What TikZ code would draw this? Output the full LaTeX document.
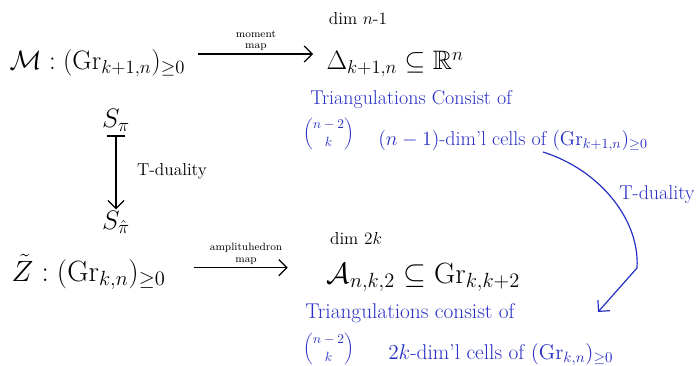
\RequirePackage{fix-cm}
\documentclass[tikz,border=0pt]{standalone}
\usepackage{amsmath,amssymb}
\usetikzlibrary{arrows.meta}
\definecolor{inkblue}{RGB}{38,46,196}
\begin{document}
\begin{tikzpicture}[x=0.75pt,y=-0.75pt,
    big/.style={font=\fontsize{20}{24}\selectfont,inner sep=1pt},
    tiny/.style={font=\fontsize{8}{8.5}\selectfont,align=center,inner sep=2pt},
    dimtext/.style={font=\fontsize{13}{15}\selectfont},
    note/.style={font=\fontsize{15}{17}\selectfont,text=inkblue,anchor=base west,inner sep=0pt},
    binom/.style={font=\fontsize{10}{11}\selectfont,text=inkblue,anchor=west,inner sep=0pt},
    mapto/.style={line width=0.9pt,-{Straight Barb[length=6pt,width=12pt]}}]
\useasboundingbox (0,0) rectangle (698,366);
% top row
\node[big,anchor=base west] (mom) at (8,70) {$\mathcal{M}:(\mathrm{Gr}_{k+1,n})_{\geq 0}$};
\node[big,anchor=base west] (simp) at (325,70) {$\Delta_{k+1,n}\subseteq\mathbb{R}^n$};
\node[dimtext] (dimA) at (358,19) {dim $n$-1};
\draw[mapto,shorten <=8pt,shorten >=9pt]
    ([yshift=12pt]mom.base east) -- ([yshift=12pt]simp.base west)
    node[midway,above,tiny] {moment\\map};
% T-duality on the left
\node[big] (spi) at (116,120) {$S_\pi$};
\node[big] (shpi) at (116,222) {$S_{\hat\pi}$};
\draw[line width=0.9pt,{Bar[width=14pt]}-{Straight Barb[length=6pt,width=12pt]},shorten <=2pt]
    (spi) -- (shpi)
    node[midway,right=12pt,dimtext] {T-duality};
% bottom row
\node[big,font=\fontsize{22}{26}\selectfont,anchor=base west] (ztil) at (10,281) {$\tilde{Z}:(\mathrm{Gr}_{k,n})_{\geq 0}$};
\node[big,font=\fontsize{22}{26}\selectfont,anchor=base west] (amp) at (325,283) {$\mathcal{A}_{n,k,2}\subseteq\mathrm{Gr}_{k,k+2}$};
\node[dimtext] (dimB) at (356,239) {dim $2k$};
\draw[mapto,shorten <=20pt,shorten >=28pt]
    ([yshift=10pt]ztil.base east) -- ([yshift=10pt]ztil.base east -| amp.west)
    node[midway,above,tiny] {amplituhedron\\map};
% blue notes
\node[note] (triA) at (310,105) {Triangulations Consist of};
\node[binom] (binA) at (303,134) {$\dbinom{n-2}{k}$};
\node[note] (cellA) at (378,146) {$(n-1)$-dim'l cells of $(\mathrm{Gr}_{k+1,n})_{\geq 0}$};
\node[note,font=\fontsize{16}{18}\selectfont] (triB) at (305,318) {Triangulations consist of};
\node[binom] (binB) at (303,349) {$\dbinom{n-2}{k}$};
\node[note,font=\fontsize{16}{18}\selectfont] (cellB) at (388,359) {$2k$-dim'l cells of $(\mathrm{Gr}_{k,n})_{\geq 0}$};
% curved T-duality
\coordinate (tdS) at (543,152);
\coordinate (tdE) at (598,312);
\draw[mapto,inkblue] (tdS) .. controls (600,170) and (640,220) .. (637,268) -- (tdE);
\node[note,anchor=center] (tdlab) at (657,195) {T-duality};
\end{tikzpicture}
\end{document}
